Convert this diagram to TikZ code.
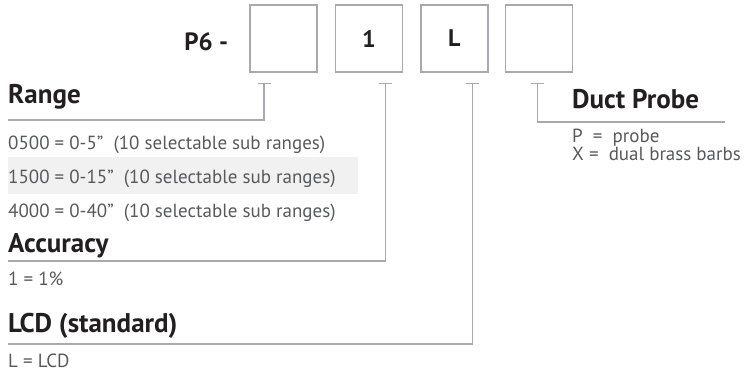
\documentclass[tikz,border=0pt]{standalone}
\usepackage{fontspec}
\setmainfont{PT Sans}
\usetikzlibrary{positioning, arrows.meta}

\definecolor{linegray}{HTML}{A7A9AC}
\definecolor{txtgray}{HTML}{58595B}
\definecolor{headblack}{HTML}{231F20}
\definecolor{bandgray}{HTML}{F1F1F2}

\begin{document}
\begin{tikzpicture}
	  [x=1pt, y=-1pt, node distance=17pt,
	  %
	  digitbox/.style={rectangle, draw=linegray, line width=1.4pt, minimum size=67pt, inner sep=0pt, text=headblack, font=\fontsize{24}{28}\bfseries\selectfont},
	  %
	  heading/.style={anchor=base west, inner sep=0pt, text=headblack, font=\fontsize{27}{30}\bfseries\selectfont},
	  %
	  option/.style={anchor=base west, inner sep=0pt, text=txtgray, font=\fontsize{19}{22}\selectfont},
	  %
	  leader/.style={draw=linegray, line width=1.4pt, arrows={Bar[width=13pt, line width=1.6pt]-}}]

	    \useasboundingbox (0,0) rectangle (749,375);
	    \fill[bandgray] (8,157) rectangle (358,194);

	    \node [digitbox] (rangebox) at (283.5,38.5) {};
	    \node [digitbox, right=of rangebox] (accbox) {1};
	    \node [digitbox, right=of accbox] (lcdbox) {L};
	    \node [digitbox, right=16pt of lcdbox] (probebox) {};
	    \node [left=21pt of rangebox, inner sep=0pt, yshift=-3pt, text=headblack, font=\fontsize{25}{28}\bfseries\selectfont] (model) {P6 -};

	    \node [heading] (range) at (8,103) {Range};
	    \node [option] (r0500) at (8,149) {0500 = 0-5”\ \ (10 selectable sub ranges)};
	    \node [option] (r1500) at (8,183) {1500 = 0-15”\ \ (10 selectable sub ranges)};
	    \node [option] (r4000) at (8,217) {4000 = 0-40”\ \ (10 selectable sub ranges)};

	    \node [heading] (acc) at (8,252) {Accuracy};
	    \node [option] (acc1) at (8,285) {1 = 1\%};

	    \node [heading] (lcd) at (8,332) {LCD (standard)};
	    \node [option] (lcdL) at (8,367) {L = LCD};

	    \node [heading] (probe) at (572,108) {Duct Probe};
	    \node [option] (probeP) at (572,142) {P\ \ =\ \ probe};
	    \node [option] (probeX) at (572,160) {X =\ \ dual brass barbs};

	    \coordinate (rangetick) at ([xshift=-19.5pt, yshift=-10pt]rangebox.south);
	    \coordinate (acctick) at ([xshift=16.5pt, yshift=-10pt]accbox.south);
	    \coordinate (lcdtick) at ([xshift=18pt, yshift=-10pt]lcdbox.south);
	    \coordinate (probetick) at ([xshift=-1.5pt, yshift=-10pt]probebox.south);
	    \coordinate (rangeend) at (8,120);
	    \coordinate (accend) at (8,261);
	    \coordinate (lcdend) at (8,344);
	    \coordinate (probeend) at (725,122);

	    \draw [leader] (rangetick) |- (rangeend);
	    \draw [leader] (acctick) |- (accend);
	    \draw [leader] (lcdtick) |- (lcdend);
	    \draw [leader] (probetick) |- (probeend);
	  \end{tikzpicture}
\end{document}
